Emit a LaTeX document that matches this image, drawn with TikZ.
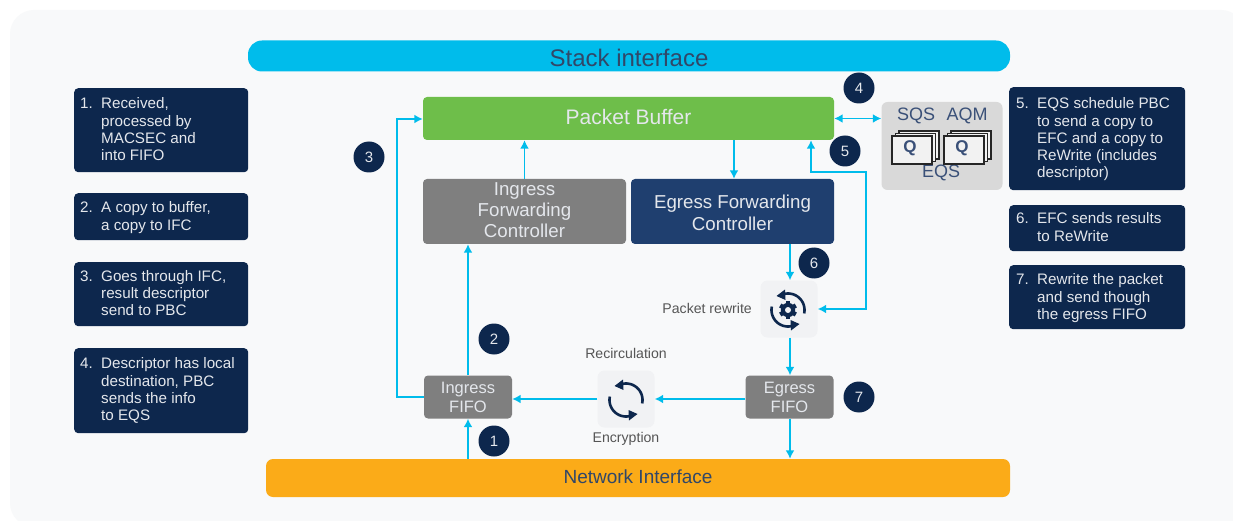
\documentclass[tikz,border=0pt]{standalone}
\usepackage{fontspec}
\setmainfont{Liberation Sans}
\usetikzlibrary{arrows.meta,calc}
\definecolor{navy}{HTML}{0D274D}
\definecolor{cyanl}{HTML}{00BCEB}
\definecolor{panel}{HTML}{F8F9FA}
\definecolor{grn}{HTML}{6EBE4A}
\definecolor{org}{HTML}{FBAB18}
\definecolor{gr}{HTML}{7F7F7F}
\definecolor{efc}{HTML}{1F3F6F}
\definecolor{eqsbg}{HTML}{D9D9D9}
\definecolor{eqstx}{HTML}{3A5078}
\definecolor{iconbg}{HTML}{F1F2F4}
\definecolor{lab}{HTML}{555555}
\definecolor{softw}{HTML}{E4E7EC}
\tikzset{
 fs/.style 2 args={font=\fontsize{#1}{#2}\selectfont},
 block/.style={rounded corners=4pt,inner sep=0pt,align=center,text=softw},
 note/.style={fill=navy,rounded corners=4pt,inner sep=0pt},
 notetx/.style={anchor=north west,inner sep=0pt,text=softw,align=left,fs={15.2}{17.3}},
 badge/.style={circle,fill=navy,text=softw,minimum size=31pt,inner sep=0pt,fs={15}{18}},
 flow/.style={draw=cyanl,line width=1.8pt,-{Latex[length=8.5pt,width=9pt]}},
 flowb/.style={draw=cyanl,line width=1.8pt,{Latex[length=8.5pt,width=9pt]}-{Latex[length=8.5pt,width=9pt]}},
 iconbox/.style={fill=iconbg,rounded corners=7pt,minimum width=57pt,minimum height=57pt,inner sep=0pt},
 lbl/.style={text=lab,inner sep=0pt,fs={14.1}{16}},
 eqt/.style={text=eqstx,inner sep=0pt,fs={18}{20}},
 qcard/.style={draw=black!85,line width=1.4pt,fill=white!95!black},
 ic/.style={draw=navy,line width=2.6pt},
}
\newcommand{\nt}[1]{\makebox[21pt][l]{#1}}
\newcommand{\ntl}{\\\hspace*{21pt}}
\newcommand{\qstack}[1]{%
 \begin{scope}[shift={#1}]
  \draw[qcard] (7,-5) rectangle (47,23);
  \draw[qcard] (3.5,-2.5) rectangle (43.5,25.5);
  \draw[qcard] (0,0) rectangle (40,28);
  \node[text=eqstx,inner sep=0pt,font=\fontsize{17}{20}\bfseries\selectfont] at (18,12.5) {Q};
 \end{scope}}
\newcommand{\cyc}{%
 \draw[ic] plot[domain=245:372,samples=40] ({16.5*cos(\x)},{16.5*sin(\x)});
 \draw[ic] plot[domain=65:192,samples=40] ({16.5*cos(\x)},{16.5*sin(\x)});
 \fill[navy] (-11.5,-14) -- (-3,-20.5) -- (-2.5,-10) -- cycle;
 \fill[navy] (11.5,14) -- (3,20.5) -- (2.5,10) -- cycle;}
\begin{document}
\begin{tikzpicture}[x=1pt,y=-1pt]
\useasboundingbox (0,0) rectangle (1233,521);
\fill[white] (0,0) rectangle (1233,521);
\fill[panel,rounded corners=24pt] (10,10) rectangle (1245,527);

\node[fill=cyanl,rounded corners=14pt,minimum width=762pt,minimum height=31pt,inner sep=0pt,text=navy!85!white,fs={24}{28},text height=20.5pt,text depth=0pt] (stack) at (629,56) {Stack interface};
\node[fill=org,rounded corners=7pt,minimum width=744pt,minimum height=38pt,inner sep=0pt,text=navy!85!white,fs={19}{22},text height=14pt,text depth=4pt] (net) at (638,478) {Network Interface};
\node[block,fill=grn,minimum width=411pt,minimum height=43pt,fs={21}{25}] (pb) at (628.5,118.5) {Packet Buffer\rule[-3pt]{0pt}{1pt}};
\node[block,fill=gr,minimum width=203pt,minimum height=65pt,fs={18.7}{21.3}] (ifc) at (524.5,211.5) {Ingress\\Forwarding\\Controller\rule[-2.6pt]{0pt}{1pt}};
\node[block,fill=efc,minimum width=203pt,minimum height=65pt,fs={18.7}{21.3}] (efc) at (732.5,211.5) {\rule{0pt}{16pt}Egress Forwarding\\Controller};
\node[block,fill=gr,minimum width=88pt,minimum height=43pt,fs={16.5}{19}] (ififo) at (468,397) {Ingress\\FIFO};
\node[block,fill=gr,minimum width=88pt,minimum height=43pt,fs={16.5}{19}] (efifo) at (789.5,397) {Egress\\FIFO};

\node[iconbox] (rw) at (789,309) {};
\node[iconbox] (rc) at (626,399) {};
\node[lbl,anchor=east] (rwl) at (752,308) {Packet rewrite};
\node[lbl] (rcl) at (626,353) {Recirculation};
\node[lbl] (enl) at (626,439) {Encryption};

% rewrite icon
\begin{scope}[shift={(788,310)}]
 \cyc
 \foreach \a in {0,60,...,300}{\fill[navy,rotate=\a] (-2.2,-9) rectangle (2.2,-5);}
 \fill[navy] (0,0) circle (7.2);
 \fill[iconbg] (0,0) circle (3);
\end{scope}
% recirculation icon
\begin{scope}[shift={(626,400)}]
 \cyc
\end{scope}

% EQS
\node[fill=eqsbg,rounded corners=6pt,minimum width=121pt,minimum height=88pt,inner sep=0pt] (eqs) at (942,146) {};
\node[eqt] (sqs) at (916,116) {SQS};
\node[eqt] (aqm) at (967,116) {AQM};
\node[eqt] (eqsl) at (941,173) {EQS};
\qstack{(892,136)}
\qstack{(944,136)}

% badges
\node[badge] (b1) at (494,441) {1};
\node[badge] (b2) at (494,339) {2};
\node[badge] (b3) at (369,157) {3};
\node[badge] (b4) at (859,88) {4};
\node[badge] (b5) at (845,151) {5};
\node[badge] (b6) at (814,263) {6};
\node[badge] (b7) at (859,397) {7};

% connectors
\draw[flow] (net.north -| ififo) -- (ififo.south);
\draw[flow] (ififo.north) -- (ififo.north |- ifc.south);
\draw[flow] (ififo.west) -| ++(-27,-278) -- (pb.west |- 0,119);
\draw[flow] (ifc.north) -- (ifc.north |- pb.south);
\draw[flow] (pb.south -| 734,0) -- (734,0 |- efc.north);
\draw[flow] (790,0 |- efc.south) -- (rw.north -| 790,0);
\draw[flow] (rw.south -| 790,0) -- (790,0 |- efifo.north);
\draw[flow] (efifo.west |- rc.east) -- (rc.east);
\draw[flow] (rc.west) -- (ififo.east |- rc.west);
\draw[flow] (790,0 |- efifo.south) -- (790,0 |- net.north);
\draw[flowb] (pb.east) -- (eqs.west |- pb.east);
\draw[flowb] (rw.east) -| (866,172) -| (811,0 |- pb.south);

% notes
\node[note,minimum width=174pt,minimum height=84pt,anchor=north west] (n1) at (74,88) {};
\node[notetx] (t1) at (80,97.5) {\nt{1.}Received,\ntl processed by\ntl MACSEC and\ntl into FIFO};
\node[note,minimum width=174pt,minimum height=47pt,anchor=north west] (n2) at (74,193) {};
\node[notetx] (t2) at (80,201.5) {\nt{2.}A copy to buffer,\ntl a copy to IFC};
\node[note,minimum width=174pt,minimum height=64pt,anchor=north west] (n3) at (74,262) {};
\node[notetx] (t3) at (80,270) {\nt{3.}Goes through IFC,\ntl result descriptor\ntl send to PBC};
\node[note,minimum width=174pt,minimum height=85pt,anchor=north west] (n4) at (74,348) {};
\node[notetx] (t4) at (80,357.5) {\nt{4.}Descriptor has local\ntl destination, PBC\ntl sends the info\ntl to EQS};

\node[note,minimum width=176pt,minimum height=103pt,anchor=north west] (n5) at (1009,87) {};
\node[notetx] (t5) at (1016,97.5) {\nt{5.}EQS schedule PBC\ntl to send a copy to\ntl EFC and a copy to\ntl ReWrite (includes\ntl descriptor)};
\node[note,minimum width=176pt,minimum height=46pt,anchor=north west] (n6) at (1009,205) {};
\node[notetx] (t6) at (1016,212.5) {\nt{6.}EFC sends results\ntl to ReWrite};
\node[note,minimum width=176pt,minimum height=64pt,anchor=north west] (n7) at (1009,265) {};
\node[notetx] (t7) at (1016,273.5) {\nt{7.}Rewrite the packet\ntl and send though\ntl the egress FIFO};
\end{tikzpicture}
\end{document}
